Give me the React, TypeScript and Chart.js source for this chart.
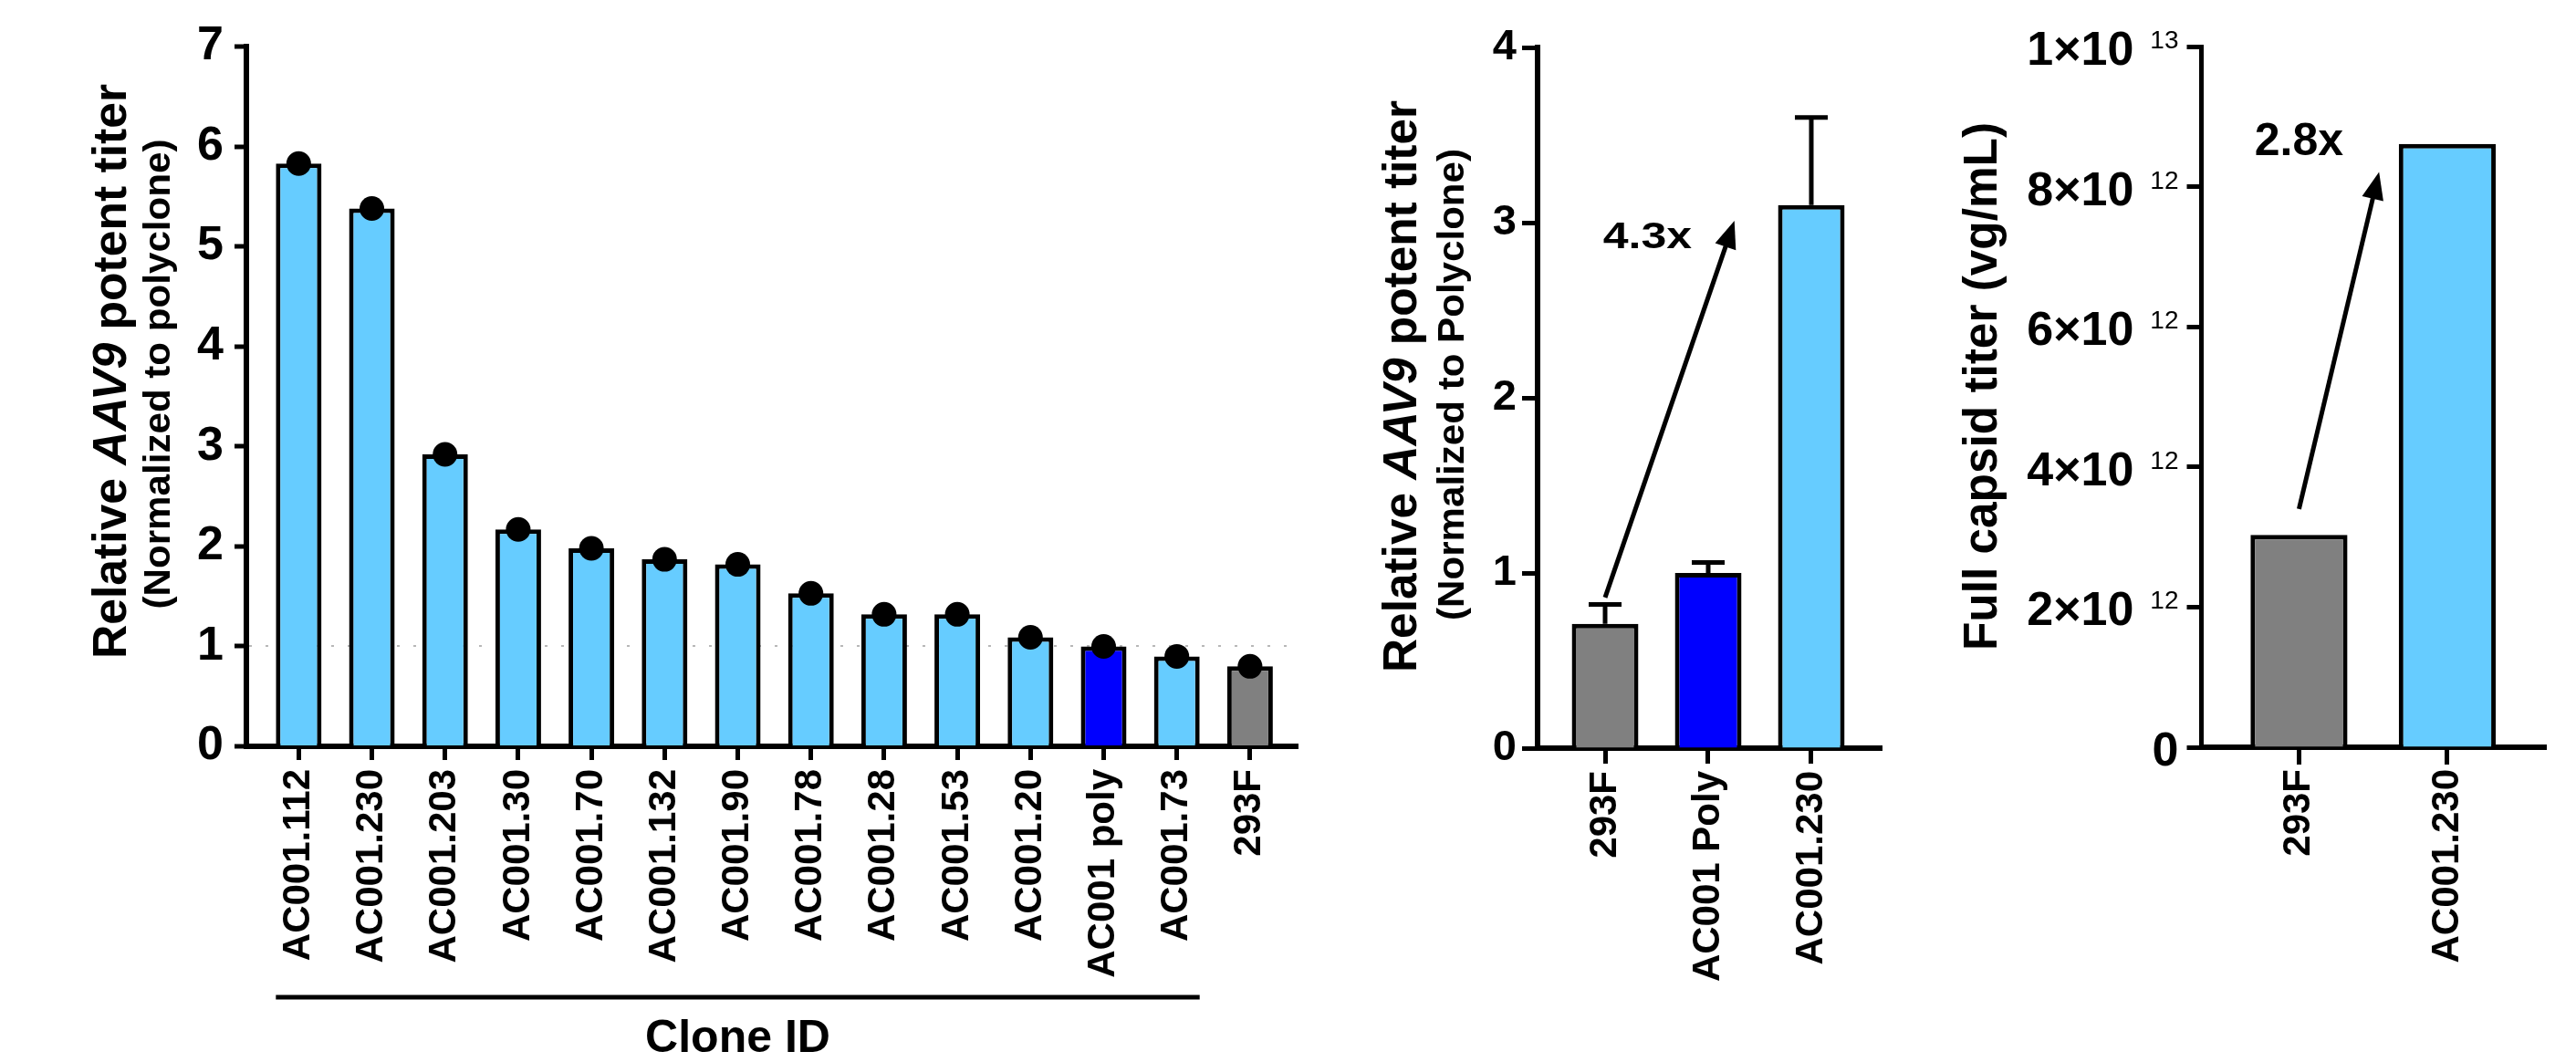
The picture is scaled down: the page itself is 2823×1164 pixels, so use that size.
import React, { useEffect, useRef } from 'react';
import { Chart, registerables } from 'chart.js';

Chart.register(...registerables);

const FONT = '"Liberation Sans", Arial, Helvetica, sans-serif';

// ---------------- Panel A: clone screen ----------------
const cloneIds = [
  'AC001.112', 'AC001.230', 'AC001.203', 'AC001.30', 'AC001.70', 'AC001.132', 'AC001.90',
  'AC001.78', 'AC001.28', 'AC001.53', 'AC001.20', 'AC001 poly', 'AC001.73', '293F',
];
const cloneTiter = [5.83, 5.38, 2.92, 2.17, 1.98, 1.87, 1.82, 1.53, 1.32, 1.32, 1.09, 1.0, 0.9, 0.8];
const cloneYTicks = { min: 0, max: 7, step: 1 };
const cloneRefValue = 1;
const cloneGroupLabel = 'Clone ID';
const cloneGroupRange = [0, 12];
const cloneTitle1 = [{ text: 'Relative ' }, { text: 'AAV9', italic: true }, { text: ' potent titer' }];
const cloneTitle2 = '(Normalized to polyclone)';

// ---------------- Panel B: comparison ----------------
const cmpLabels = ['293F', 'AC001 Poly', 'AC001.230'];
const cmpTiter = [0.71, 1.0, 3.1];
const cmpTiterErr = [0.11, 0.06, 0.5];
const cmpYTicks = { min: 0, max: 4, step: 1 };
const cmpFold = '4.3x';
const cmpArrowFrom = [0, 0.86];
const cmpArrowTo = [1.254, 3.01];
const cmpFoldAt = [0.41, 2.91];
const cmpTitle1 = [{ text: 'Relative ' }, { text: 'AAV9', italic: true }, { text: ' potent titer' }];
const cmpTitle2 = '(Normalized to Polyclone)';

// ---------------- Panel C: full capsid titer ----------------
const capsidLabels = ['293F', 'AC001.230'];
const capsidTiter = [3.03e12, 8.61e12];
const capsidTickValues = [0, 2e12, 4e12, 6e12, 8e12, 1e13];
const capsidTickBase = ['0', '2×10', '4×10', '6×10', '8×10', '1×10'];
const capsidTickExp = ['', '12', '12', '12', '12', '13'];
const capsidFold = '2.8x';
const capsidArrowFrom = [0, 3.4e12];
const capsidArrowTo = [0.54, 8.21e12];
const capsidFoldAt = [0, 8.63e12];
const capsidTitle = [{ text: 'Full capsid titer (vg/mL)' }];

// ---------------- styles ----------------
const LIGHT = '#66CCFF';
const BLUE = '#0000FF';
const GRAY = '#808080';
const cloneColors = [LIGHT, LIGHT, LIGHT, LIGHT, LIGHT, LIGHT, LIGHT, LIGHT, LIGHT, LIGHT, LIGHT, BLUE, LIGHT, GRAY];
const cmpColors = [GRAY, BLUE, LIGHT];
const capsidColors = [GRAY, LIGHT];

type Run = { text: string; italic?: boolean };

// Draws text rotated -90deg, centred on centerY, with its baseline at baselineX,
// stretched along its length so that it spans `length` pixels.
function drawVerticalTitle(ctx: CanvasRenderingContext2D, runs: Run[], baselineX: number, centerY: number, size: number, length: number) {
  ctx.save();
  const fonts = runs.map((r) => `${r.italic ? 'italic ' : ''}bold ${size}px ${FONT}`);
  let total = 0;
  const widths = runs.map((r, i) => {
    ctx.font = fonts[i];
    const w = ctx.measureText(r.text).width;
    total += w;
    return w;
  });
  ctx.translate(baselineX, centerY);
  ctx.rotate(-Math.PI / 2);
  ctx.scale(length / total, 1);
  ctx.textBaseline = 'alphabetic';
  ctx.textAlign = 'left';
  ctx.fillStyle = '#000';
  let x = -total / 2;
  runs.forEach((r, i) => {
    ctx.font = fonts[i];
    ctx.fillText(r.text, x, 0);
    x += widths[i];
  });
  ctx.restore();
}

function drawArrow(ctx: CanvasRenderingContext2D, x1: number, y1: number, x2: number, y2: number, lw: number, headLen: number, headHalf: number) {
  const ang = Math.atan2(y2 - y1, x2 - x1);
  const bx = x2 - headLen * Math.cos(ang);
  const by = y2 - headLen * Math.sin(ang);
  ctx.save();
  ctx.strokeStyle = '#000';
  ctx.fillStyle = '#000';
  ctx.lineWidth = lw;
  ctx.lineCap = 'butt';
  ctx.beginPath();
  ctx.moveTo(x1, y1);
  ctx.lineTo(bx + Math.cos(ang) * 2, by + Math.sin(ang) * 2);
  ctx.stroke();
  ctx.beginPath();
  ctx.moveTo(x2, y2);
  ctx.lineTo(bx + headHalf * Math.sin(ang), by - headHalf * Math.cos(ang));
  ctx.lineTo(bx - headHalf * Math.sin(ang), by + headHalf * Math.cos(ang));
  ctx.closePath();
  ctx.fill();
  ctx.restore();
}

function drawText(ctx: CanvasRenderingContext2D, text: string, cx: number, cy: number, size: number, stretch = 1) {
  ctx.save();
  ctx.font = `bold ${size}px ${FONT}`;
  ctx.fillStyle = '#000';
  ctx.textAlign = 'center';
  ctx.textBaseline = 'middle';
  ctx.translate(cx, cy);
  ctx.scale(stretch, 1);
  ctx.fillText(text, 0, 0);
  ctx.restore();
}

type Area = { left: number; top: number; right: number; bottom: number };

function baseOptions(w: number, h: number, area: Area) {
  return {
    animation: false,
    responsive: false,
    maintainAspectRatio: false,
    devicePixelRatio: 1,
    events: [],
    layout: { autoPadding: false, padding: { left: 0, top: area.top, right: w - area.right, bottom: 0 } },
    plugins: { legend: { display: false }, tooltip: { enabled: false }, title: { display: false } },
  };
}

function xScale(labels: string[], min: number, max: number, h: number, area: Area, tickLen: number, pad: number) {
  return {
    type: 'linear',
    min,
    max,
    offset: false,
    afterFit: (s: any) => { s.height = h - area.bottom; },
    grid: { display: true, offset: false, drawOnChartArea: false, drawTicks: true, tickLength: tickLen, tickWidth: 5, tickColor: '#000', color: 'rgba(0,0,0,0)' },
    border: { display: true, color: '#000', width: 6 },
    ticks: {
      stepSize: 1,
      includeBounds: false,
      autoSkip: false,
      maxRotation: 90,
      minRotation: 90,
      padding: pad,
      color: '#000',
      font: { family: FONT, size: 42, weight: 'bold' },
      callback: (v: number) => labels[v] ?? '',
    },
  };
}

// ---------------- Panel configs ----------------
const PA = { left: 0, top: 0, w: 1440, h: 1164, area: { left: 270, top: 51, right: 1422, bottom: 818 } };
const PB = { left: 1440, top: 0, w: 700, h: 1164, area: { left: 245, top: 52, right: 622.5, bottom: 820 } };
const PC = { left: 2140, top: 0, w: 683, h: 1164, area: { left: 272.5, top: 51, right: 650, bottom: 819 } };

function configA(): any {
  const { w, h, area } = PA;
  const pts = cloneTiter.map((v, i) => ({ x: i, y: v }));
  return {
    type: 'bar',
    data: {
      datasets: [
        { type: 'line', data: pts, showLine: false, pointRadius: 13.5, pointHoverRadius: 13.5, pointBackgroundColor: '#000', pointBorderWidth: 0, order: 0 },
        { type: 'bar', data: pts, backgroundColor: cloneColors, borderColor: '#000', borderWidth: 5, barPercentage: 0.624, categoryPercentage: 1, order: 1 },
      ],
    },
    options: {
      ...baseOptions(w, h, area),
      scales: {
        x: xScale(cloneIds, -0.715, 13.65, h, area, 15, 10),
        y: {
          type: 'linear',
          min: cloneYTicks.min,
          max: cloneYTicks.max,
          afterFit: (s: any) => { s.width = area.left; },
          grid: {
            drawOnChartArea: true,
            color: (c: any) => (c.tick && c.tick.value === cloneRefValue ? '#b8b8b8' : 'rgba(0,0,0,0)'),
            lineWidth: 2,
            tickLength: 13,
            tickWidth: 5,
            tickColor: '#000',
          },
          border: { display: true, color: '#000', width: 6, dash: [3, 15] },
          ticks: { stepSize: cloneYTicks.step, padding: 12, color: '#000', font: { family: FONT, size: 52, weight: 'bold' } },
        },
      },
    },
    plugins: [
      {
        id: 'panelAExtras',
        afterDraw(chart: any) {
          const ctx = chart.ctx as CanvasRenderingContext2D;
          drawVerticalTitle(ctx, cloneTitle1, 138, 407, 52, 630);
          drawVerticalTitle(ctx, [{ text: cloneTitle2 }], 186, 410, 40, 515);
          const meta = chart.getDatasetMeta(1);
          const first = meta.data[cloneGroupRange[0]];
          const last = meta.data[cloneGroupRange[1]];
          const x1 = first.x - first.width / 2;
          const x2 = last.x + last.width / 2;
          ctx.save();
          ctx.strokeStyle = '#000';
          ctx.lineWidth = 5;
          ctx.beginPath();
          ctx.moveTo(x1, 1093);
          ctx.lineTo(x2, 1093);
          ctx.stroke();
          ctx.font = `bold 50px ${FONT}`;
          ctx.fillStyle = '#000';
          ctx.textAlign = 'center';
          ctx.textBaseline = 'alphabetic';
          ctx.fillText(cloneGroupLabel, (x1 + x2) / 2, 1153);
          ctx.restore();
        },
      },
    ],
  };
}

function configB(): any {
  const { w, h, area } = PB;
  const pts = cmpTiter.map((v, i) => ({ x: i, y: v }));
  return {
    type: 'bar',
    data: {
      datasets: [
        { type: 'bar', data: pts, backgroundColor: cmpColors, borderColor: '#000', borderWidth: 5, barPercentage: 0.646, categoryPercentage: 1 },
      ],
    },
    options: {
      ...baseOptions(w, h, area),
      scales: {
        x: xScale(cmpLabels, -0.655, 2.686, h, area, 17, 8),
        y: {
          type: 'linear',
          min: cmpYTicks.min,
          max: cmpYTicks.max,
          afterFit: (s: any) => { s.width = area.left; },
          grid: { drawOnChartArea: false, color: 'rgba(0,0,0,0)', tickLength: 17, tickWidth: 5, tickColor: '#000' },
          border: { display: true, color: '#000', width: 6 },
          ticks: { stepSize: cmpYTicks.step, padding: 6, color: '#000', font: { family: FONT, size: 47, weight: 'bold' } },
        },
      },
    },
    plugins: [
      {
        id: 'panelBExtras',
        afterDraw(chart: any) {
          const ctx = chart.ctx as CanvasRenderingContext2D;
          const xs = chart.scales.x;
          const ys = chart.scales.y;
          drawVerticalTitle(ctx, cmpTitle1, 112, 423.5, 52, 627);
          drawVerticalTitle(ctx, [{ text: cmpTitle2 }], 164, 421.5, 41, 517);
          // error bars
          const meta = chart.getDatasetMeta(0);
          ctx.save();
          ctx.strokeStyle = '#000';
          ctx.lineWidth = 5;
          meta.data.forEach((bar: any, i: number) => {
            const yb = ys.getPixelForValue(cmpTiter[i]);
            const yt = ys.getPixelForValue(cmpTiter[i] + cmpTiterErr[i]);
            ctx.beginPath();
            ctx.moveTo(bar.x, yb);
            ctx.lineTo(bar.x, yt);
            ctx.moveTo(bar.x - 18, yt);
            ctx.lineTo(bar.x + 18, yt);
            ctx.stroke();
          });
          ctx.restore();
          drawArrow(
            ctx,
            xs.getPixelForValue(cmpArrowFrom[0]), ys.getPixelForValue(cmpArrowFrom[1]),
            xs.getPixelForValue(cmpArrowTo[0]), ys.getPixelForValue(cmpArrowTo[1]),
            5, 30, 12,
          );
          drawText(ctx, cmpFold, xs.getPixelForValue(cmpFoldAt[0]), ys.getPixelForValue(cmpFoldAt[1]), 40, 1.25);
        },
      },
    ],
  };
}

function configC(): any {
  const { w, h, area } = PC;
  const pts = capsidTiter.map((v, i) => ({ x: i, y: v }));
  return {
    type: 'bar',
    data: {
      datasets: [
        { type: 'bar', data: pts, backgroundColor: capsidColors, borderColor: '#000', borderWidth: 5, barPercentage: 0.654, categoryPercentage: 1 },
      ],
    },
    options: {
      ...baseOptions(w, h, area),
      scales: {
        x: xScale(capsidLabels, -0.658, 1.665, h, area, 19, 5),
        y: {
          type: 'linear',
          min: capsidTickValues[0],
          max: capsidTickValues[capsidTickValues.length - 1],
          afterFit: (s: any) => { s.width = area.left; },
          grid: { drawOnChartArea: false, color: 'rgba(0,0,0,0)', tickLength: 16, tickWidth: 5, tickColor: '#000' },
          border: { display: true, color: '#000', width: 5 },
          ticks: { display: false, stepSize: capsidTickValues[1] - capsidTickValues[0] },
        },
      },
    },
    plugins: [
      {
        id: 'panelCExtras',
        afterDraw(chart: any) {
          const ctx = chart.ctx as CanvasRenderingContext2D;
          const xs = chart.scales.x;
          const ys = chart.scales.y;
          drawVerticalTitle(ctx, capsidTitle, 48, 423.5, 51, 579);
          // tick labels with superscripts
          const right = chart.chartArea.left - 25;
          ctx.save();
          ctx.fillStyle = '#000';
          ctx.textBaseline = 'alphabetic';
          ctx.textAlign = 'right';
          capsidTickValues.forEach((v, i) => {
            const py = ys.getPixelForValue(v);
            const exp = capsidTickExp[i];
            let ew = 0;
            if (exp) {
              ctx.font = `normal 28px ${FONT}`;
              ew = ctx.measureText(exp).width;
              ctx.fillText(exp, right, py + 2);
            }
            ctx.font = `bold 52px ${FONT}`;
            ctx.fillText(capsidTickBase[i], right - ew - (exp ? 18 : 0), py + 20);
          });
          ctx.restore();
          drawArrow(
            ctx,
            xs.getPixelForValue(capsidArrowFrom[0]), ys.getPixelForValue(capsidArrowFrom[1]),
            xs.getPixelForValue(capsidArrowTo[0]), ys.getPixelForValue(capsidArrowTo[1]),
            5, 30, 12,
          );
          drawText(ctx, capsidFold, xs.getPixelForValue(capsidFoldAt[0]), ys.getPixelForValue(capsidFoldAt[1]), 50);
        },
      },
    ],
  };
}

function Panel({ box, make }: { box: { left: number; top: number; w: number; h: number }; make: () => any }) {
  const ref = useRef<HTMLCanvasElement | null>(null);
  useEffect(() => {
    if (!ref.current) return;
    const chart = new Chart(ref.current, make());
    return () => chart.destroy();
  }, []);
  return (
    <canvas
      ref={ref}
      width={box.w}
      height={box.h}
      style={{ position: 'absolute', left: box.left, top: box.top, width: box.w, height: box.h, display: 'block' }}
    />
  );
}

export default function App() {
  useEffect(() => {
    document.body.style.margin = '0';
    document.body.style.overflow = 'hidden';
    document.body.style.background = '#fff';
  }, []);
  return (
    <div style={{ position: 'absolute', left: 0, top: 0, width: 2823, height: 1164, background: '#fff', overflow: 'hidden' }}>
      <Panel box={PA} make={configA} />
      <Panel box={PB} make={configB} />
      <Panel box={PC} make={configC} />
    </div>
  );
}
